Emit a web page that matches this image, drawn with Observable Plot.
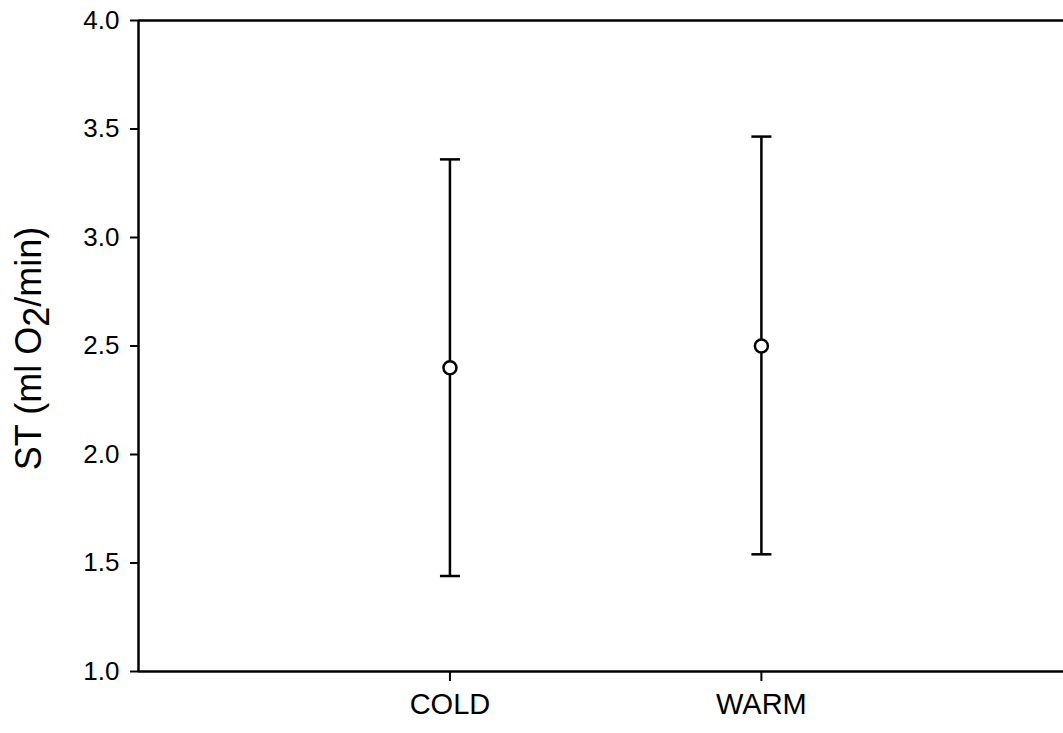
<!DOCTYPE html>
<html>
<head>
<meta charset="utf-8">
<script src="https://cdn.jsdelivr.net/npm/d3@7"></script>
<script src="https://cdn.jsdelivr.net/npm/@observablehq/plot@0.6"></script>
<style>
  html, body { margin: 0; padding: 0; background: #fff; }
  svg { display: block; }
  svg g[aria-label="y-axis tick label"] { font-size: 26px; }
  svg g[aria-label="x-axis tick label"] { font-size: 29px; }
</style>
</head>
<body>
<div id="chart"></div>
<script>
const categories = ["COLD", "WARM"];
const means = [2.40, 2.50];
const upper = [3.36, 3.465];
const lower = [1.44, 1.54];
const yTicks = [1.0, 1.5, 2.0, 2.5, 3.0, 3.5, 4.0];

const data = categories.map((c, i) => ({pos: i + 1, cat: c, mean: means[i], hi: upper[i], lo: lower[i]}));

const capSymbol = {
  draw(ctx) { ctx.moveTo(-10, 0); ctx.lineTo(10, 0); }
};

const font = "Liberation Sans, Arial, sans-serif";

const plot = Plot.plot({
  width: 1063,
  height: 733,
  marginLeft: 138,
  marginRight: 0,
  marginTop: 20,
  marginBottom: 62,
  style: {fontFamily: font, fontSize: "26px", color: "#000", background: "#fff", overflow: "visible"},
  x: {type: "linear", domain: [0, 2.97], axis: null},
  y: {domain: [1, 4], axis: null},
  marks: [
    Plot.axisY({ticks: yTicks, tickFormat: d => d.toFixed(1), tickSize: 8, tickPadding: 11, strokeWidth: 2, label: null, fontSize: 26}),
    Plot.axisX({ticks: data.map(d => d.pos), tickFormat: (d, i) => categories[i], tickSize: 10, tickPadding: 12, strokeWidth: 2, label: null, fontSize: 29}),
    Plot.ruleY([1, 4], {stroke: "#000", strokeWidth: 2.5}),
    Plot.ruleX([0], {stroke: "#000", strokeWidth: 2.5, y1: 1, y2: 4}),
    Plot.ruleX(data, {x: "pos", y1: "lo", y2: "hi", stroke: "#000", strokeWidth: 2.5}),
    Plot.dot(data, {x: "pos", y: "hi", symbol: capSymbol, stroke: "#000", strokeWidth: 2.5, fill: "none", r: 5}),
    Plot.dot(data, {x: "pos", y: "lo", symbol: capSymbol, stroke: "#000", strokeWidth: 2.5, fill: "none", r: 5}),
    Plot.dot(data, {x: "pos", y: "mean", r: 6.5, fill: "#fff", stroke: "#000", strokeWidth: 2.5})
  ]
});

document.getElementById("chart").appendChild(plot);

// Y-axis title with subscript
const svg = d3.select(plot);
const yMid = (20 + 671) / 2 + 3;
const t = svg.append("text")
  .attr("transform", `translate(41,${yMid}) rotate(-90)`)
  .attr("text-anchor", "middle")
  .attr("font-family", font)
  .attr("font-size", 36)
  .attr("fill", "#000");
t.append("tspan").text("ST (ml O");
t.append("tspan").attr("dy", 8).text("2");
t.append("tspan").attr("dy", -8).text("/min)");
</script>
</body>
</html>
